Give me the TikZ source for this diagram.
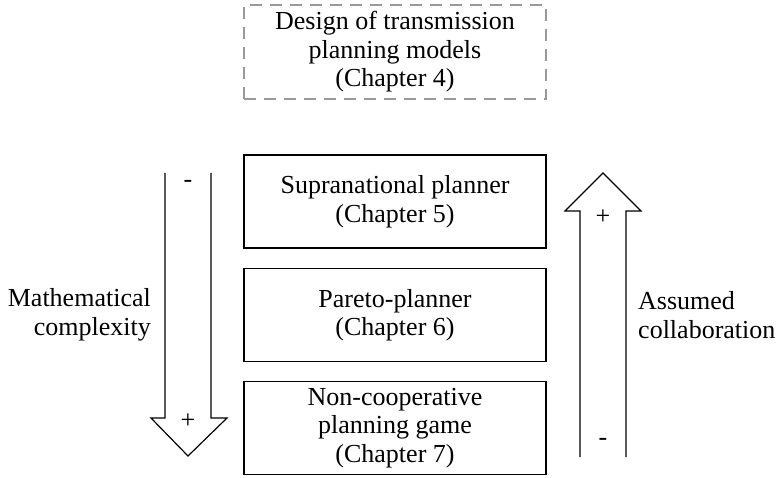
\documentclass[tikz,border=0pt]{standalone}
\usepackage{fontspec}
\setmainfont{Liberation Serif}
\begin{document}
\begin{tikzpicture}[x=1pt,y=-1pt,
  every node/.style={font=\fontsize{26}{28.5}\selectfont},
  chapbox/.style={draw=black, line width=1.2pt, minimum width=302pt, minimum height=93pt, align=center, inner sep=0pt},
  dashbox/.style={draw=black!40, line width=1.2pt, dash pattern=on 12pt off 8pt, minimum width=302pt, minimum height=94pt, align=center, inner sep=0pt},
  bigarrow/.style={draw=black, line width=1.2pt, line join=miter},
  sign/.style={inner sep=0pt}]
\useasboundingbox (0,0) rectangle (781,478);
\node[dashbox] (design) at (395,52) {Design of transmission\\planning models\\(Chapter 4)};
\node[chapbox] (supra) at (395,201.5) {Supranational planner\\(Chapter 5)};
\node[chapbox] (pareto) at (395,315) {Pareto-planner\\(Chapter 6)};
\node[chapbox] (noncoop) at (395,428) {Non-cooperative\\planning game\\(Chapter 7)};
% left arrow (down)
\draw[bigarrow] (165,173) -- (165,418) -- (151,418) -- (188,456) -- (227,418) -- (211,418) -- (211,173);
\node[sign] (lminus) at (188,184) {-};
\node[sign] (lplus) at (188,421) {+};
% right arrow (up)
\draw[bigarrow] (580,457) -- (580,211) -- (565,211) -- (603,173) -- (641,211) -- (626,211) -- (626,457);
\node[sign] (rplus) at (603,217) {+};
\node[sign] (rminus) at (603,442) {-};
\node[anchor=east, align=right, inner sep=0pt] (mathc) at (151,315) {Mathematical\\complexity};
\node[anchor=west, align=left, inner sep=0pt] (assumed) at (638,315) {Assumed\\collaboration};
\end{tikzpicture}
\end{document}
